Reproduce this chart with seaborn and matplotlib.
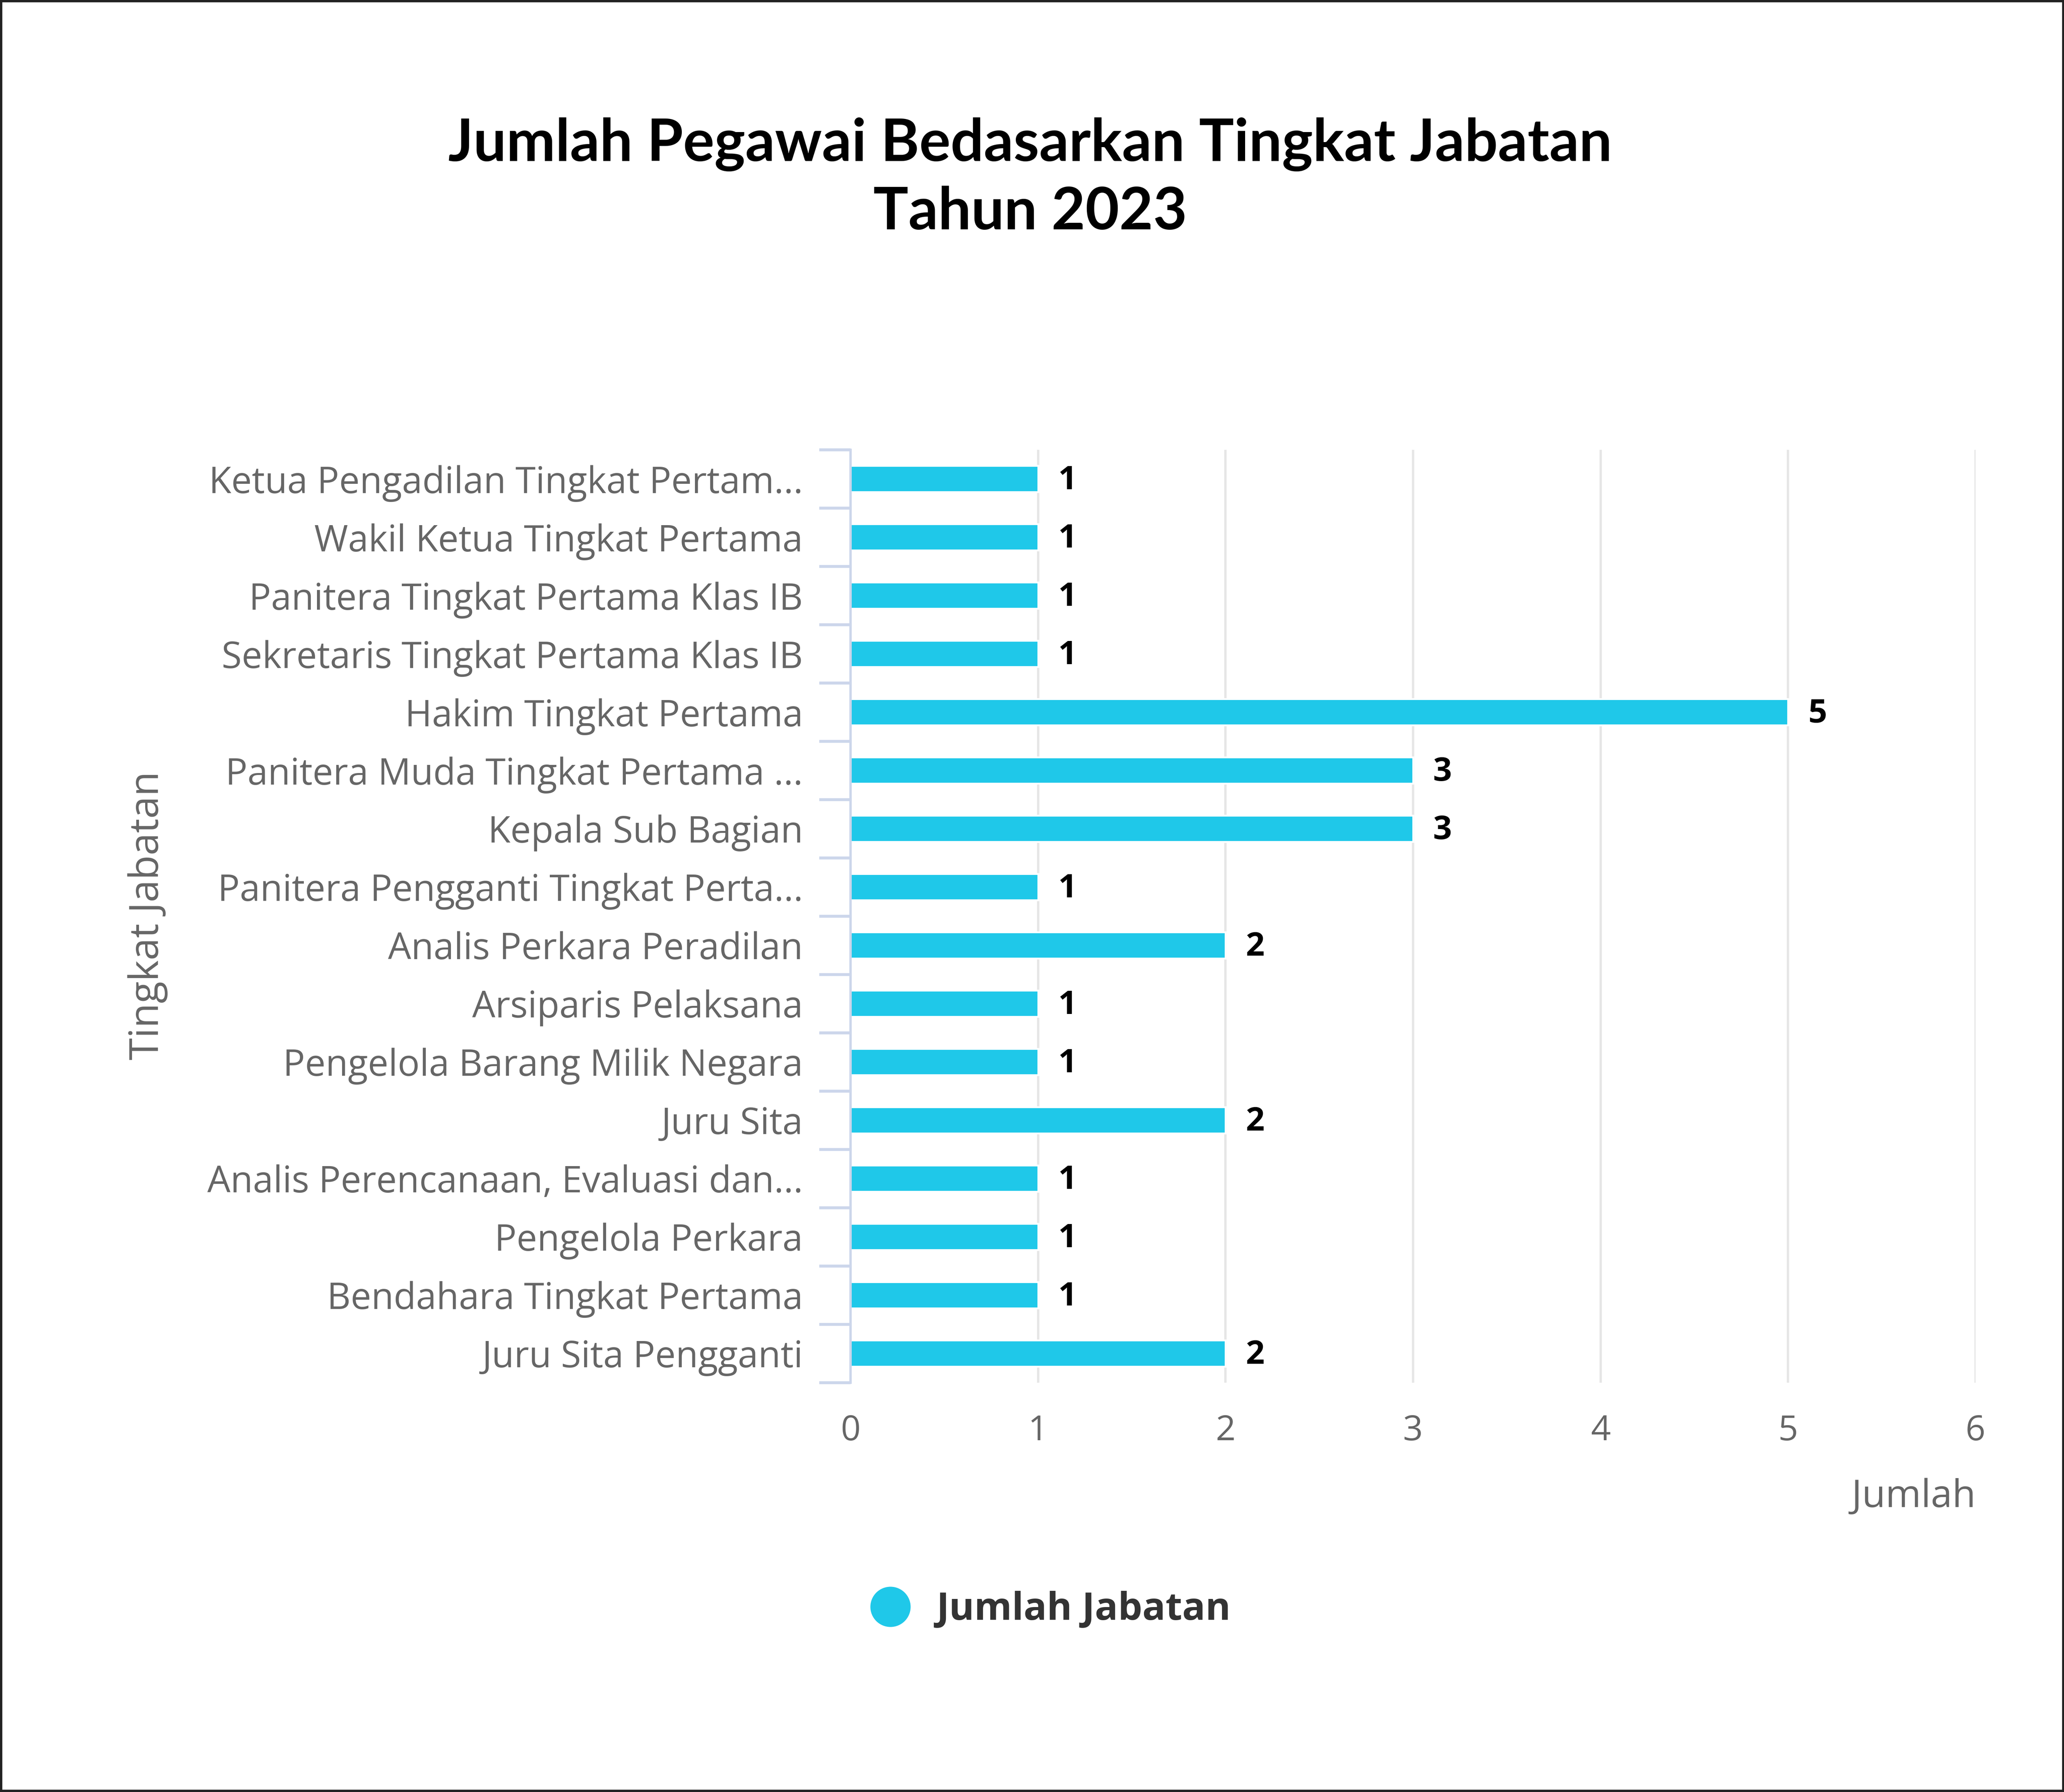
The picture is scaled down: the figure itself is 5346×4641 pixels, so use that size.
import matplotlib
matplotlib.use("Agg")
import matplotlib.pyplot as plt
import seaborn as sns
import pandas as pd
from matplotlib.lines import Line2D
from matplotlib.patches import Rectangle

# ── data ──────────────────────────────────────────────────────────
jabatan = [
    "Ketua Pengadilan Tingkat Pertam...",
    "Wakil Ketua Tingkat Pertama",
    "Panitera Tingkat Pertama Klas IB",
    "Sekretaris Tingkat Pertama Klas IB",
    "Hakim Tingkat Pertama",
    "Panitera Muda Tingkat Pertama ...",
    "Kepala Sub Bagian",
    "Panitera Pengganti Tingkat Perta...",
    "Analis Perkara Peradilan",
    "Arsiparis Pelaksana",
    "Pengelola Barang Milik Negara",
    "Juru Sita",
    "Analis Perencanaan, Evaluasi dan...",
    "Pengelola Perkara",
    "Bendahara Tingkat Pertama",
    "Juru Sita Pengganti",
]
jumlah = [1, 1, 1, 1, 5, 3, 3, 1, 2, 1, 1, 2, 1, 1, 1, 2]
x_ticks = [0, 1, 2, 3, 4, 5, 6]

title = "Jumlah Pegawai Bedasarkan Tingkat Jabatan\nTahun 2023"
series_name = "Jumlah Jabatan"

BAR_COLOR = "#1fc8e9"
LABEL_GREY = "#666666"
AXIS_BLUE = "#ccd6eb"

sns.set_style("white")
plt.rcParams["font.family"] = ["Open Sans", "DejaVu Sans"]

df = pd.DataFrame({"jabatan": jabatan, "jumlah": jumlah})

fig = plt.figure(figsize=(15.68, 13.61), dpi=341)
ax = fig.add_axes([0.412, 0.2285, 0.545, 0.5205])

sns.barplot(data=df, x="jumlah", y="jabatan", orient="h", color=BAR_COLOR,
            width=0.45, saturation=1, ax=ax)

# data labels
for i, v in enumerate(jumlah):
    ax.annotate(str(v), (v, i), xytext=(11, -1), textcoords="offset points",
                ha="left", va="center", fontsize=18, fontweight="bold",
                color="black")

ax.set_xlim(0, 6)
ax.set_ylim(len(jabatan) - 0.5, -0.5)
ax.set_xticks(x_ticks)
ax.set_xticklabels([str(t) for t in x_ticks])
ax.grid(axis="x", color="#e6e6e6", lw=1.3)
ax.set_axisbelow(True)

for side in ["top", "right", "bottom"]:
    ax.spines[side].set_visible(False)
ax.spines["left"].set_color(AXIS_BLUE)
ax.spines["left"].set_linewidth(1.3)

# category ticks sit on the boundaries (highcharts style)
ax.set_yticks(range(len(jabatan)))
ax.set_yticklabels(jabatan)
ax.tick_params(axis="y", length=0, pad=26, labelsize=20, labelcolor=LABEL_GREY)
ax.set_yticks([i - 0.5 for i in range(len(jabatan) + 1)], minor=True)
ax.tick_params(axis="y", which="minor", length=17, width=1.6, color=AXIS_BLUE,
               left=True)
ax.tick_params(axis="x", length=0, pad=17, labelsize=19, labelcolor=LABEL_GREY)

ax.set_ylabel("")
ax.set_xlabel("Jumlah", loc="right", fontsize=21, color=LABEL_GREY, labelpad=16)

fig.text(0.0715, 0.489, "Tingkat Jabatan", rotation=90, ha="center",
         va="center", fontsize=22, color=LABEL_GREY)

fig.text(0.499, 0.9005, title, ha="center", va="center", fontsize=32,
         fontweight="bold", color="black", linespacing=1.33,
         family=["Lato", "DejaVu Sans"])

handle = Line2D([0], [0], marker="o", ls="none", markersize=21,
                markerfacecolor=BAR_COLOR, markeredgecolor=BAR_COLOR)
fig.legend(handles=[handle], labels=[series_name], loc="center",
           bbox_to_anchor=(0.5045, 0.1015), frameon=False, handletextpad=0.2,
           prop={"size": 21, "weight": "bold"}, labelcolor="#333333")

fig.patches.append(Rectangle((0, 0), 1, 1, transform=fig.transFigure,
                             fill=False, edgecolor="#222222", lw=2.5))

fig.savefig("out.png", dpi=341, facecolor="white")
